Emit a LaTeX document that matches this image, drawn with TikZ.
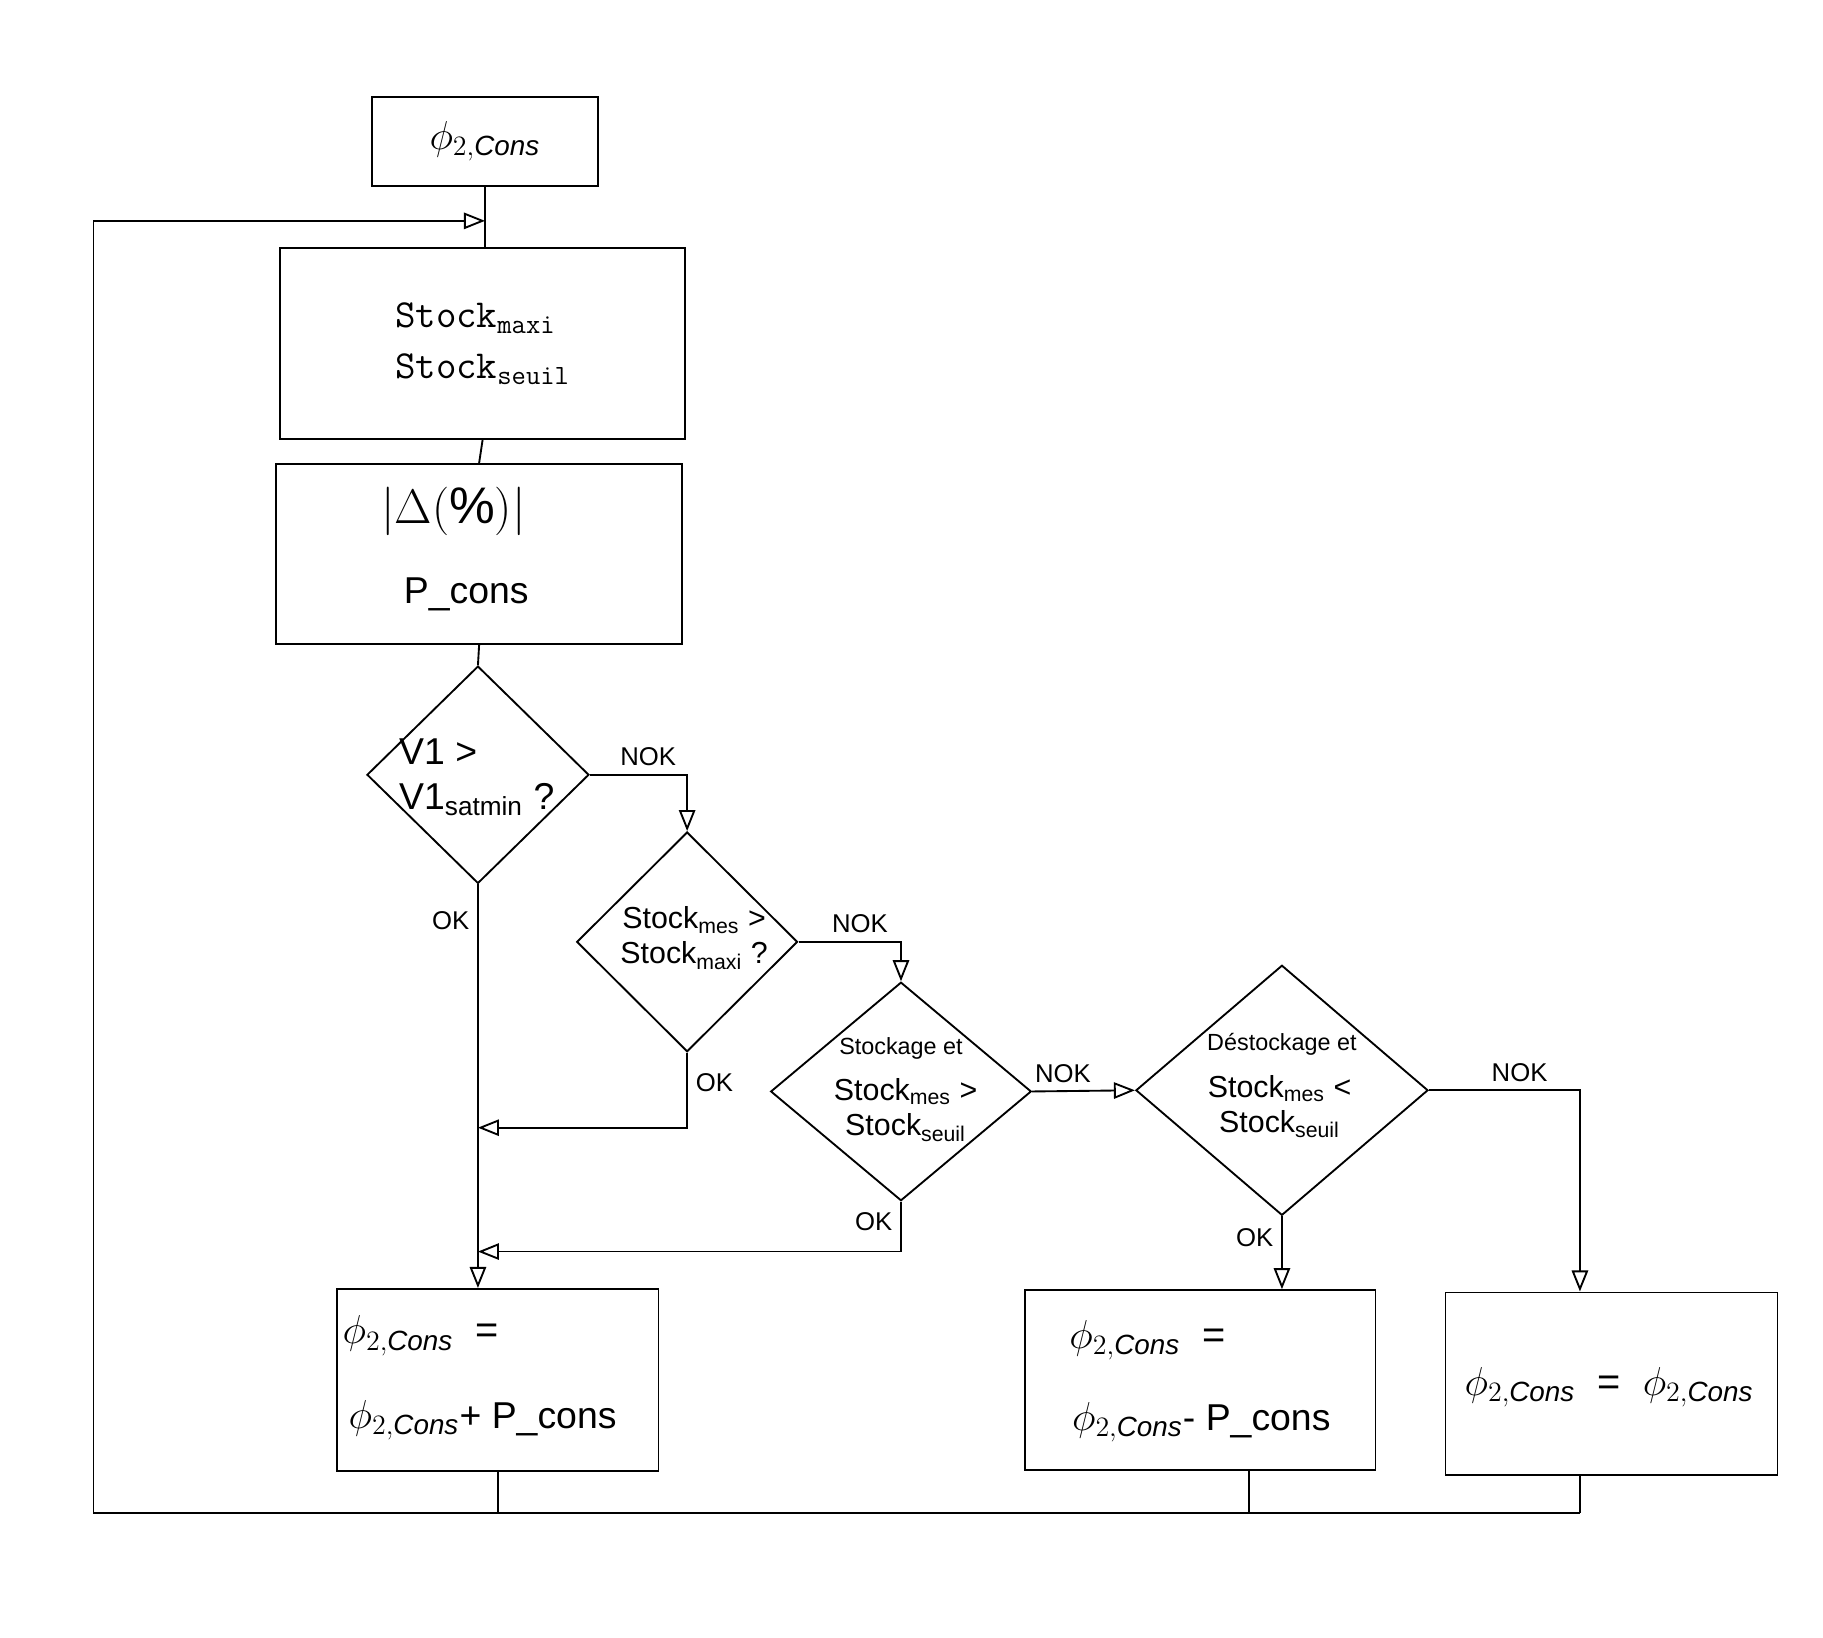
\documentclass[tikz,border=0pt]{standalone}
\usepackage{fontspec}
\setmainfont{Liberation Sans}
\usetikzlibrary{shapes.geometric,arrows.meta}
\begin{document}
\begin{tikzpicture}[x=0.5pt,y=-0.5pt,
  box/.style={draw,thick,rectangle,inner sep=0},
  dia/.style={draw,thick,diamond,inner sep=0},
  ln/.style={thick},
  ar/.style={thick,-{Triangle[open,length=9pt,width=7pt]}},
  lab/.style={font=\fontsize{11}{13}\selectfont},
  big/.style={font=\fontsize{16}{19}\selectfont},
  small/.style={font=\fontsize{13}{15}\selectfont}]
\useasboundingbox (0,0) rectangle (1560,1401);
\node[box,minimum width=97pt,minimum height=38pt] (b1) at (415,121) {\fontsize{17}{19}\selectfont$\phi_{2,\mathit{Cons}}$};
\node[box,minimum width=173.5pt,minimum height=81.5pt,align=left,font=\ttfamily\fontsize{17}{22}\selectfont] (b2) at (413,294) {Stock\textsubscript{maxi}\\Stock\textsubscript{seuil}};
\node[box,minimum width=173.5pt,minimum height=77pt] (b3) at (410,474) {};
\node at (388,438) {\fontsize{22}{24}\selectfont$\left|\Delta(\%)\right|$};
\node[big] at (399,509) {P\_cons};
\node[dia,minimum width=95pt,minimum height=93pt] (d1) at (409,663) {};
\node[big,align=left] at (408,665) {V1 >\\V1\textsubscript{satmin} ?};
\node[dia,minimum width=94.5pt,minimum height=94pt] (d2) at (588,806) {};
\node[small,align=center] at (594,803) {Stock\textsubscript{mes} >\\Stock\textsubscript{maxi} ?};
\node[dia,minimum width=111.5pt,minimum height=93.5pt] (d3) at (771,934) {};
\node[align=center,font=\fontsize{10}{13}\selectfont] at (771,897) {Stockage et};
\node[small,align=center] at (775,950) {Stock\textsubscript{mes} >\\Stock\textsubscript{seuil}};
\node[dia,minimum width=125pt,minimum height=107pt] (d4) at (1097,933) {};
\node[align=center,font=\fontsize{10}{13}\selectfont] at (1097,894) {Déstockage et};
\node[small,align=center] at (1095,947) {Stock\textsubscript{mes} <\\Stock\textsubscript{seuil}};
\node[box,minimum width=137.5pt,minimum height=78pt] (b4) at (426,1181) {};
\node at (360,1143) {\fontsize{17}{19}\selectfont$\phi_{2,\mathit{Cons}}$\ \ =};
\node[big] at (413,1215) {\fontsize{17}{19}\selectfont$\phi_{2,\mathit{Cons}}$\fontsize{16}{19}\selectfont+ P\_cons};
\node[box,minimum width=150pt,minimum height=77pt] (b5) at (1027,1181) {};
\node at (982,1147) {\fontsize{17}{19}\selectfont$\phi_{2,\mathit{Cons}}$\ \ =};
\node[big] at (1028,1217) {\fontsize{17}{19}\selectfont$\phi_{2,\mathit{Cons}}$\fontsize{16}{19}\selectfont- P\_cons};
\node[box,minimum width=142pt,minimum height=78pt] (b6) at (1379,1184) {};
\node at (1377,1187) {\fontsize{17}{19}\selectfont$\phi_{2,\mathit{Cons}}$\ \ =\ \ $\phi_{2,\mathit{Cons}}$};
% connectors
\coordinate (top) at (415,189);
\draw[ln] (b1.south) -- (b2.north -| b1.south);
\draw[ln] (b2.south) -- (b3.north);
\draw[ln] (b3.south) -- (d1.north);
\draw[ar] (d1.east) -| (d2.north) node[pos=0.3,above,lab] {NOK};
\draw[ar] (d2.east) -| (d3.north) node[pos=0.3,above,lab] {NOK};
\draw[ar] (d3.east) -- (d4.west) node[pos=0.3,above,lab] {NOK};
\draw[ar] (d4.east) -| (b6.north -| 1352,0) node[pos=0.3,above,lab] {NOK};
\draw[ar] (d1.south) -- (b4.north -| d1.south) node[pos=0.09,left,lab] {OK};
\coordinate (m2) at (409,965);
\coordinate (m3) at (409,1071);
\draw[ar] (d2.south) -- (588,965) node[pos=0.4,right,lab] {OK} -- (m2);
\draw[ar] (d3.south) -- (771,1071) node[pos=0.4,left,lab] {OK} -- (m3);
\draw[ar] (d4.south) -- (b5.north -| d4.south) node[pos=0.3,left,lab] {OK};
\coordinate (c1) at (426,1295);
\coordinate (c2) at (1069,1295);
\coordinate (c3) at (1352,1295);
\coordinate (c0) at (80,1295);
\coordinate (c4) at (80,189);
\draw[ln] (b4.south) -- (c1);
\draw[ln] (b5.south -| c2) -- (c2);
\draw[ln] (b6.south -| c3) -- (c3);
\draw[ln] (c3) -- (c0) -- (c4);
\draw[ar] (c4) -- (top);
\end{tikzpicture}
\end{document}
